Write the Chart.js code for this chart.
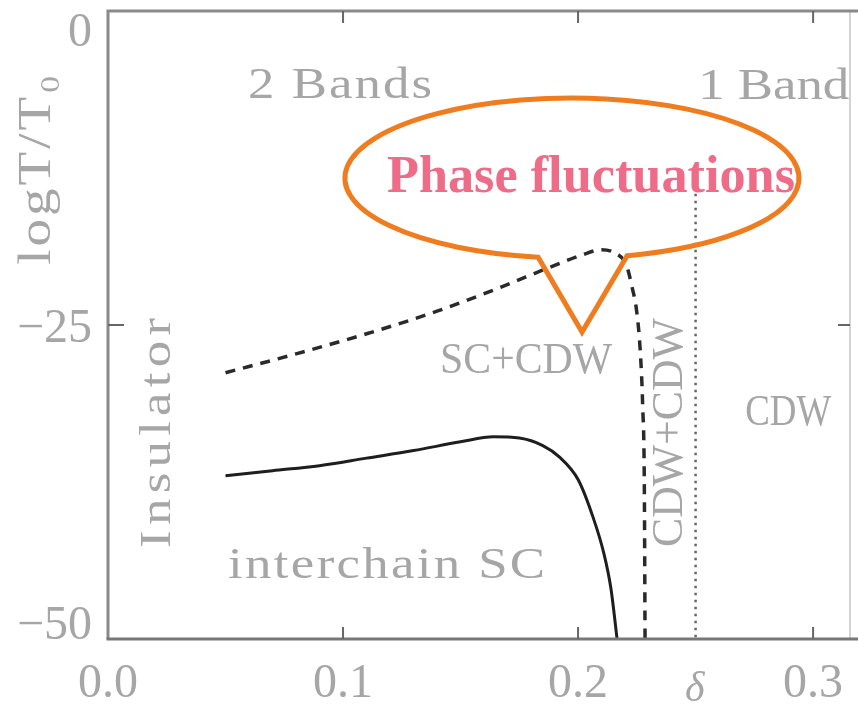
<!DOCTYPE html>
<html>
<head>
<meta charset="utf-8">
<script src="https://cdn.jsdelivr.net/npm/chart.js@4.4.0/dist/chart.umd.min.js"></script>
<style>
  html, body { margin: 0; padding: 0; background: #fff; }
  #wrap { width: 858px; height: 706px; }
</style>
</head>
<body>
<div id="wrap"><canvas id="phase" width="858" height="706"></canvas></div>
<script>
// interchain SC boundary (solid)
const solidDelta = [0.05, 0.07, 0.09, 0.11, 0.13, 0.15, 0.164, 0.175, 0.185, 0.192, 0.2, 0.206, 0.211, 0.214, 0.2166];
const solidLogT = [-37.0, -36.6, -36.2, -35.6, -35.0, -34.3, -33.9, -34.0, -34.6, -35.5, -37.3, -40.1, -43.2, -46.0, -50];

// SC+CDW boundary (dashed)
const dashedDelta = [0.05, 0.08, 0.11, 0.14, 0.167, 0.188, 0.202, 0.21, 0.216, 0.2205, 0.223, 0.225, 0.2265, 0.2275, 0.2282, 0.2285];
const dashedLogT = [-28.8, -27.3, -25.7, -23.9, -22.0, -20.4, -19.4, -19.0, -19.3, -20.2, -22.0, -24.0, -27.2, -31.5, -38, -50];

// 2 band / 1 band crossover (dotted)
const dottedDelta = [0.25, 0.25];
const dottedLogT = [-14, -50];

const xTickValues = [0, 0.1, 0.2, 0.3];
const xTickLabels = ['0.0', '0.1', '0.2', '0.3'];
const yTickValues = [0, -25, -50];
const yTickLabels = ['0', '\u221225', '\u221250'];

const grey = '#a6a6a6';
const serif = '"Liberation Serif", "DejaVu Serif", serif';

// text placed in data coordinates (d = delta, v = logT at baseline start)
const textMarks = [
  { text: '2 Bands', d: 0.0596, v: -6.93, size: 44, w: 184 },
  { text: '1 Band', d: 0.2511, v: -7.0, size: 44, w: 152 },
  { text: 'SC+CDW', d: 0.1413, v: -28.82, size: 44, w: 172 },
  { text: 'CDW', d: 0.2711, v: -32.96, size: 44, w: 86 },
  { text: 'interchain SC', d: 0.0511, v: -45.14, size: 44, w: 317 },
  { text: 'Insulator', d: 0.0264, v: -42.75, size: 44, w: 230, rot: true },
  { text: 'CDW+CDW', d: 0.2443, v: -42.68, size: 44, w: 229, rot: true },
  { text: 'logT/T\u2080', d: -0.0247, v: -20.2, size: 46, w: 190, rot: true },
  { text: '\u03b4', d: 0.2496, v: -54.9, size: 42, w: 0, italic: true },
  { text: 'Phase fluctuations', d: 0.1187, v: -14.41, size: 52, w: 408,
    bold: true, color: '#ee6c88' }
];

function drawText(ctx, m, x, y) {
  ctx.save();
  ctx.font = (m.italic ? 'italic ' : '') + (m.bold ? 'bold ' : '') + m.size + 'px ' + serif;
  ctx.fillStyle = m.color || grey;
  ctx.textBaseline = 'alphabetic';
  ctx.textAlign = m.w ? 'left' : 'center';
  ctx.translate(x, y);
  if (m.rot) ctx.rotate(-Math.PI / 2);
  if (m.w) {
    const w = ctx.measureText(m.text).width;
    const s = Math.min(m.w / w, 1.2);
    ctx.scale(s, 1);
    const gap = (m.w - w * s) / (m.text.length - 1) / s;
    if (gap > 0.2 && 'letterSpacing' in ctx) ctx.letterSpacing = gap.toFixed(2) + 'px';
  }
  ctx.fillText(m.text, 0, 0);
  ctx.restore();
}

const framePlugin = {
  id: 'frame',
  afterDatasetsDraw(chart) {
    const ctx = chart.ctx;
    const xs = chart.scales.x, ys = chart.scales.y;
    const a = chart.chartArea;

    // callout bubble
    const cx = xs.getPixelForValue(0.1974), cy = ys.getPixelForValue(-13.3);
    const rx = xs.getPixelForValue(0.1974 + 0.0966) - cx;
    const ry = ys.getPixelForValue(-13.3 - 6.37) - cy;
    const leftBase = xs.getPixelForValue(0.183), rightBase = xs.getPixelForValue(0.2209);
    const tipX = xs.getPixelForValue(0.2017), tipY = ys.getPixelForValue(-25.56);
    const t1 = Math.acos((rightBase - cx) / rx), t2 = Math.acos((leftBase - cx) / rx);
    ctx.save();
    ctx.strokeStyle = '#ef7d20';
    ctx.lineWidth = 5;
    ctx.lineJoin = 'miter';
    ctx.beginPath();
    ctx.ellipse(cx, cy, rx, ry, 0, t2, t1 + 2 * Math.PI, false);
    ctx.lineTo(tipX, tipY);
    ctx.closePath();
    ctx.stroke();
    ctx.restore();

    textMarks.forEach(m => drawText(ctx, m, xs.getPixelForValue(m.d), ys.getPixelForValue(m.v)));

    // axes box
    ctx.save();
    ctx.lineCap = 'butt';
    ctx.strokeStyle = '#c4c4c4';
    ctx.lineWidth = 1.5;
    ctx.beginPath();
    ctx.moveTo(a.right, a.top); ctx.lineTo(a.right, a.bottom);
    ctx.stroke();
    ctx.strokeStyle = '#8a8a8a';
    ctx.lineWidth = 3;
    ctx.beginPath();
    ctx.moveTo(a.left, a.bottom); ctx.lineTo(a.left, a.top); ctx.lineTo(chart.width, a.top);
    ctx.stroke();
    ctx.strokeStyle = '#777';
    ctx.beginPath();
    ctx.moveTo(a.left - 1.5, a.bottom); ctx.lineTo(chart.width, a.bottom);
    ctx.stroke();

    // inward ticks
    ctx.strokeStyle = '#666';
    ctx.lineWidth = 2;
    ctx.beginPath();
    xTickValues.forEach(v => {
      const p = xs.getPixelForValue(v);
      if (p <= a.left + 2) return;
      ctx.moveTo(p, a.bottom); ctx.lineTo(p, a.bottom - 12);
      ctx.moveTo(p, a.top); ctx.lineTo(p, a.top + 12);
    });
    yTickValues.forEach(v => {
      const p = ys.getPixelForValue(v);
      if (p <= a.top + 2 || p >= a.bottom - 2) return;
      ctx.moveTo(a.left, p); ctx.lineTo(a.left + 16, p);
      ctx.moveTo(a.right, p); ctx.lineTo(a.right - 12, p);
    });
    ctx.stroke();

    // tick labels
    ctx.font = '48px ' + serif;
    ctx.fillStyle = grey;
    ctx.textBaseline = 'alphabetic';
    ctx.textAlign = 'center';
    xTickValues.forEach((v, i) => {
      ctx.fillText(xTickLabels[i], xs.getPixelForValue(v), a.bottom + 58);
    });
    ctx.textAlign = 'right';
    yTickValues.forEach((v, i) => {
      const p = ys.getPixelForValue(v) + 17;
      ctx.fillText(yTickLabels[i], a.left - 16, Math.min(Math.max(p, a.top + 35), a.bottom));
    });
    ctx.restore();
  }
};

const pairUp = (xsArr, ysArr) => xsArr.map((x, i) => ({ x: x, y: ysArr[i] }));

new Chart(document.getElementById('phase'), {
  type: 'line',
  data: {
    datasets: [
      {
        label: 'interchain SC',
        data: pairUp(solidDelta, solidLogT),
        borderColor: '#1e1e1e',
        borderWidth: 3,
        cubicInterpolationMode: 'monotone'
      },
      {
        label: 'SC+CDW',
        data: pairUp(dashedDelta, dashedLogT),
        borderColor: '#2a2a2a',
        borderWidth: 3.5,
        borderDash: [10, 8],
        cubicInterpolationMode: 'monotone'
      },
      {
        label: 'band crossover',
        data: pairUp(dottedDelta, dottedLogT),
        borderColor: '#666',
        borderWidth: 2.5,
        borderDash: [2.5, 4.5]
      }
    ]
  },
  options: {
    responsive: false,
    animation: false,
    layout: { padding: { left: 108, top: 11, right: 8, bottom: 67 } },
    elements: { point: { radius: 0 } },
    scales: {
      x: { type: 'linear', min: 0, max: 0.3157, display: false },
      y: { type: 'linear', min: -50, max: 0, display: false }
    },
    plugins: { legend: { display: false }, tooltip: { enabled: false } }
  },
  plugins: [framePlugin]
});
</script>
</body>
</html>
